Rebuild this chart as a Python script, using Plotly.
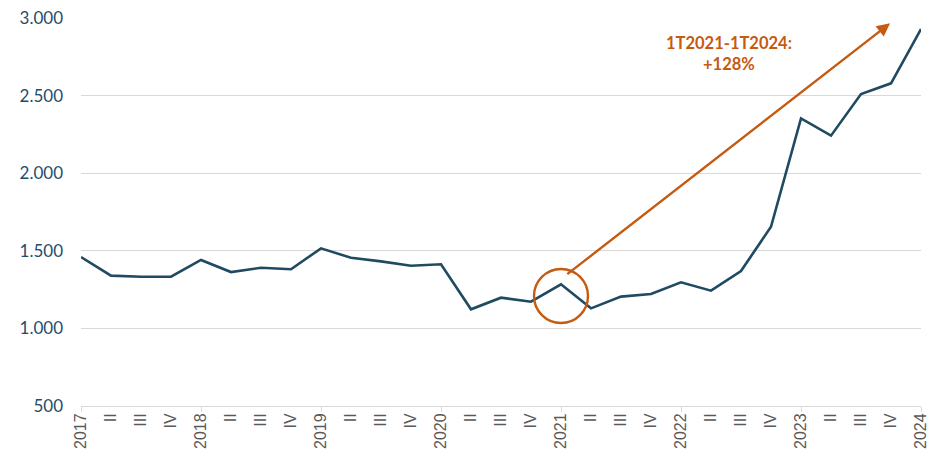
import plotly.graph_objects as go

quarter_labels = ["2017", "II", "III", "IV",
                  "2018", "II", "III", "IV",
                  "2019", "II", "III", "IV",
                  "2020", "II", "III", "IV",
                  "2021", "II", "III", "IV",
                  "2022", "II", "III", "IV",
                  "2023", "II", "III", "IV",
                  "2024"]
values = [1460, 1340, 1333, 1333,
          1441, 1363, 1391, 1381,
          1516, 1455, 1432, 1404,
          1413, 1123, 1198, 1172,
          1284, 1129, 1205, 1222,
          1297, 1243, 1370, 1655,
          2353, 2242, 2510, 2579,
          2929]
y_ticks = [500, 1000, 1500, 2000, 2500, 3000]
annotation_text = "1T2021-1T2024:<br>+128%"

LINE = "#1F4A62"
ORANGE = "#C55A11"
GRID = "#D9D9D9"

xs = list(range(len(quarter_labels)))

fig = go.Figure()
fig.add_trace(go.Scatter(x=xs, y=values, mode="lines",
                         line=dict(color=LINE, width=2.6),
                         hoverinfo="skip", showlegend=False))

# page body has an 8px default margin; figure sized to fit the 936x460 window
fig.update_layout(
    width=928, height=452,
    margin=dict(l=73, r=15, t=10, b=54, autoexpand=False),
    plot_bgcolor="white", paper_bgcolor="white",
    separators=",.",
    showlegend=False,
)

fig.update_xaxes(
    range=[0, len(xs) - 1], automargin=False,
    tickmode="array", tickvals=xs, ticktext=quarter_labels,
    tickangle=-90, ticks="", ticklen=0, ticklabeloverflow="allow",
    tickfont=dict(family="Liberation Sans, Arial", size=16, color="#595959"),
    showgrid=False, zeroline=False,
    showline=True, linecolor=GRID, linewidth=1,
    minor=dict(ticks="outside", ticklen=5, tickcolor=GRID, tickwidth=1,
               tickmode="array", tickvals=xs[::4], showgrid=False),
)
fig.update_yaxes(
    range=[500, 3000], tickmode="array", tickvals=y_ticks, automargin=False,
    tickformat=",.0f", ticklabeloverflow="allow",
    tickfont=dict(family="Lato", size=17, color="#1F4E6B"),
    showgrid=True, gridcolor=GRID, gridwidth=1,
    zeroline=False, showline=False, ticks="", ticklabelstandoff=17,
)

# circle around 1T2021
fig.add_shape(type="circle", xref="x", yref="y",
              xsizemode="pixel", ysizemode="pixel",
              xanchor=16, yanchor=1209,
              x0=-27, x1=27, y0=-27, y1=27,
              line=dict(color=ORANGE, width=2.4))

# arrow
fig.add_annotation(x=26.97, y=2966, ax=16.16, ay=1342,
                   xref="x", yref="y", axref="x", ayref="y",
                   text="", showarrow=True, arrowhead=2, arrowsize=1.1,
                   arrowwidth=2.4, arrowcolor=ORANGE, standoff=0, startstandoff=0)

fig.add_annotation(x=21.6, y=2774, xref="x", yref="y",
                   text=annotation_text, showarrow=False,
                   font=dict(family="Lato", size=16.5, color=ORANGE, weight="bold"),
                   align="center")

fig.write_html("out.html")
